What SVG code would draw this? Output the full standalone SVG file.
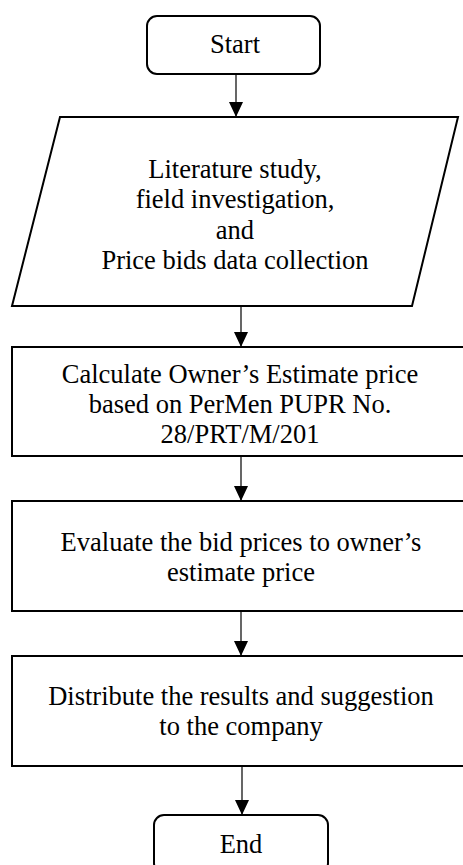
<svg xmlns="http://www.w3.org/2000/svg" width="463" height="865" viewBox="0 0 463 865">
<style>
.shape{fill:#fff;stroke:#000;stroke-width:2}
.txt{font-family:"Liberation Serif","Times New Roman",serif;font-size:26.5px;fill:#000;text-anchor:middle}
.conn{stroke:#000;stroke-width:1.2;fill:none;marker-end:url(#ah)}
</style>
<defs>
<marker id="ah" viewBox="0 0 15 14" refX="15" refY="7" markerWidth="15" markerHeight="14" markerUnits="userSpaceOnUse" orient="auto">
<path d="M0,0 L15,7 L0,14 z" fill="#000"/>
</marker>
</defs>
<rect width="463" height="865" fill="#fff"/>
<g id="connectors">
<line class="conn" x1="236" y1="74" x2="236" y2="117"/>
<line class="conn" x1="241" y1="307" x2="241" y2="347"/>
<line class="conn" x1="241" y1="456" x2="241" y2="501"/>
<line class="conn" x1="241" y1="611" x2="241" y2="656"/>
<line class="conn" x1="242" y1="766" x2="242" y2="815"/>
</g>
<g id="start">
<rect class="shape" x="147" y="16" width="173" height="58" rx="10" ry="10"/>
<text class="txt" x="235" y="53">Start</text>
</g>
<g id="collect">
<polygon class="shape" points="60,117 458,117 412,306 12,306"/>
<text class="txt" x="235" y="177.5">Literature study,</text>
<text class="txt" x="235" y="208">field investigation,</text>
<text class="txt" x="235" y="238.5">and</text>
<text class="txt" x="235" y="269">Price bids data collection</text>
</g>
<g id="calculate">
<rect class="shape" x="12" y="347" width="460" height="109"/>
<text class="txt" x="240" y="383">Calculate Owner’s Estimate price</text>
<text class="txt" x="240" y="413">based on PerMen PUPR No.</text>
<text class="txt" x="240" y="443">28/PRT/M/201</text>
</g>
<g id="evaluate">
<rect class="shape" x="12" y="501" width="460" height="110"/>
<text class="txt" x="241" y="550.5">Evaluate the bid prices to owner’s</text>
<text class="txt" x="241" y="580.5">estimate price</text>
</g>
<g id="distribute">
<rect class="shape" x="12" y="656" width="460" height="110"/>
<text class="txt" x="241" y="705">Distribute the results and suggestion</text>
<text class="txt" x="241" y="735">to the company</text>
</g>
<g id="end">
<rect class="shape" x="154" y="815" width="174" height="58" rx="10" ry="10"/>
<text class="txt" x="241" y="853">End</text>
</g>
</svg>
